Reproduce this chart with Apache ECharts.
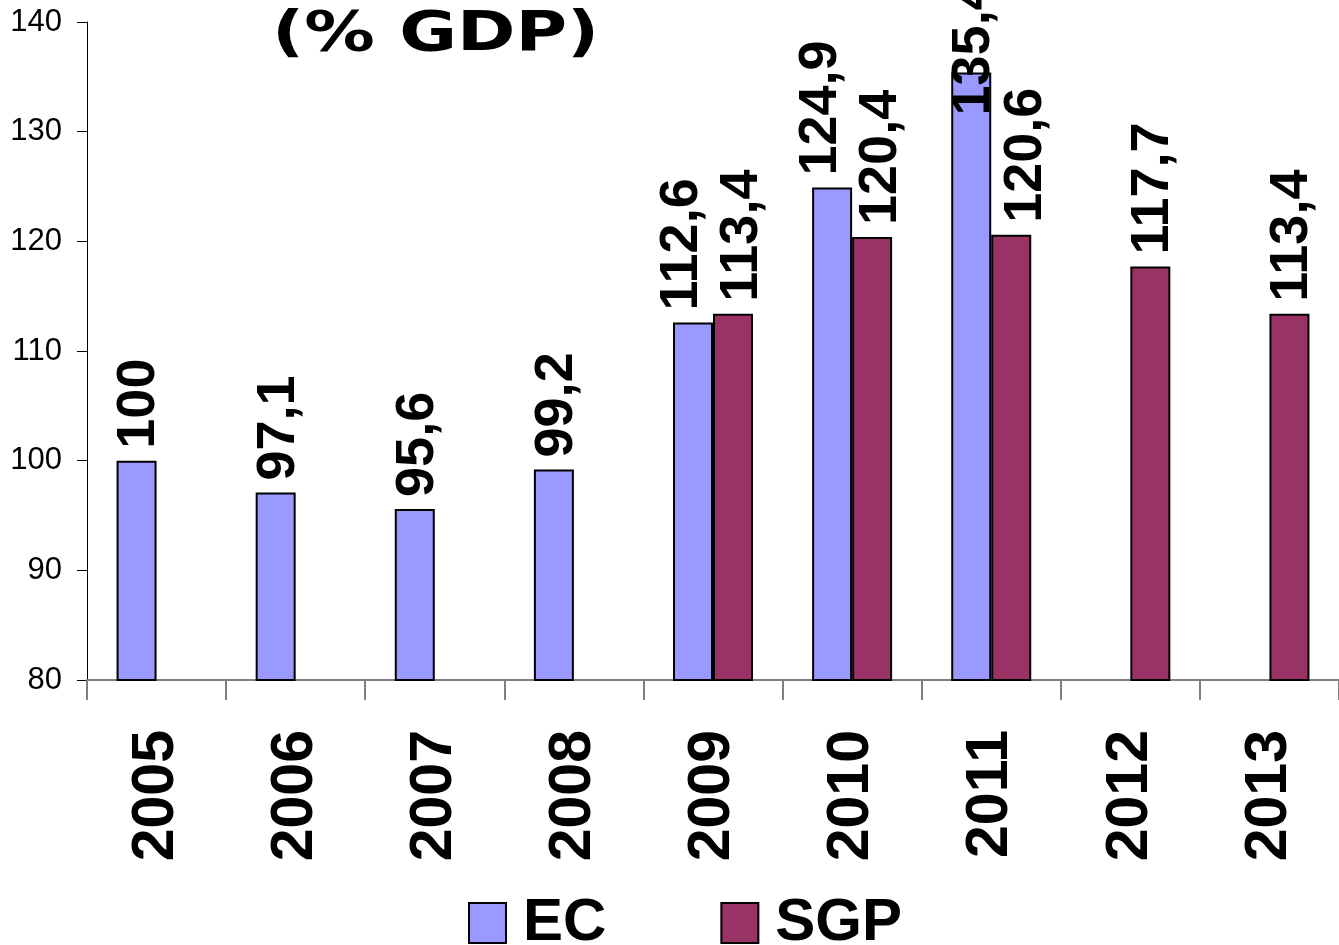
<!DOCTYPE html>
<html>
<head>
<meta charset="utf-8">
<title>(% GDP)</title>
<script src="https://cdn.jsdelivr.net/npm/echarts@6/dist/echarts.min.js"></script>
<style>
  html, body { margin: 0; padding: 0; background: #ffffff; }
  #chart { width: 1339px; height: 945px; }
</style>
</head>
<body>
<div id="chart"></div>
<script>
// Years on the category axis
const years = ['2005', '2006', '2007', '2008', '2009', '2010', '2011', '2012', '2013'];
// Debt ratio, % of GDP
const ecValues = [100, 97.1, 95.6, 99.2, 112.6, 124.9, 135.4, null, null];
const sgpValues = [null, null, null, null, 113.4, 120.4, 120.6, 117.7, 113.4];
const seriesNames = ['EC', 'SGP'];
// Value axis range
const yMin = 80;
const yMax = 140;
const yStep = 10;

const colors = { EC: '#9999FF', SGP: '#993366' };
const labelFont = 'Liberation Sans, Arial, sans-serif';

// Decimal comma for value labels
function fmt(v) { return String(v).replace('.', ','); }

// Label tweaks (labels are rotated 90deg, so offset is [along text, across text]):
// paired bars spread their labels apart, and a label that would run off the
// top of the chart is pushed down onto its bar (its neighbour then moves aside).
const labelBase = 3;
const pairSpread = { EC: -14, SGP: 6 };
const besidePushed = 12;
const pushLimit = 130;
const labelPushDown = 55;

function buildData(name, values, other) {
  return values.map(function (v, i) {
    if (v === null) return null;
    let along = 0;
    let across = labelBase;
    if (v > pushLimit) {
      along = -labelPushDown;
    } else if (other[i] !== null) {
      across += other[i] > pushLimit ? besidePushed : pairSpread[name];
    }
    return { value: v, label: { offset: [along, across] } };
  });
}

function barSeries(name, values, other) {
  return {
    name: name,
    type: 'bar',
    barWidth: 40,
    barGap: '0%',
    data: buildData(name, values, other),
    itemStyle: { color: colors[name], borderColor: '#000000', borderWidth: 2 },
    label: {
      show: true,
      position: 'top',
      rotate: 90,
      align: 'left',
      verticalAlign: 'middle',
      distance: 12,
      fontFamily: labelFont,
      fontWeight: 'bold',
      fontSize: 54,
      color: '#000000',
      formatter: function (p) { return fmt(p.value); }
    }
  };
}

const chart = echarts.init(document.getElementById('chart'), null, { renderer: 'canvas' });

chart.setOption({
  backgroundColor: '#ffffff',
  animation: false,
  graphic: [{
    type: 'text',
    x: 272,
    y: 36,
    scaleX: 1.28,
    style: {
      text: '(% GDP)',
      font: 'bold 55px "DejaVu Sans", sans-serif',
      fill: '#000000',
      textAlign: 'left',
      textVerticalAlign: 'middle'
    }
  }],
  legend: {
    data: seriesNames,
    left: 463,
    top: 888,
    itemWidth: 37,
    itemHeight: 40,
    itemGap: 114,
    icon: 'rect',
    itemStyle: { borderColor: '#000000', borderWidth: 2 },
    textStyle: {
      fontFamily: labelFont,
      fontWeight: 'bold',
      fontSize: 60,
      color: '#000000',
      padding: [0, 0, 0, 12]
    }
  },
  grid: { left: 87, right: -8, top: 22, bottom: 265, containLabel: false },
  xAxis: {
    type: 'category',
    data: years,
    boundaryGap: true,
    axisLine: { show: true, lineStyle: { color: '#808080', width: 2 } },
    axisTick: { show: true, alignWithLabel: false, length: 20, lineStyle: { color: '#808080', width: 2 } },
    axisLabel: {
      rotate: 90,
      margin: 50,
      interval: 0,
      fontFamily: labelFont,
      fontWeight: 'bold',
      fontSize: 59,
      color: '#000000'
    },
    splitLine: { show: false }
  },
  yAxis: {
    type: 'value',
    min: yMin,
    max: yMax,
    interval: yStep,
    axisLine: { show: true, lineStyle: { color: '#000000', width: 1 } },
    axisTick: { show: true, length: 10, lineStyle: { color: '#000000', width: 1 } },
    axisLabel: {
      margin: 25,
      fontFamily: labelFont,
      fontSize: 31,
      color: '#000000'
    },
    splitLine: { show: false }
  },
  series: [barSeries('EC', ecValues, sgpValues), barSeries('SGP', sgpValues, ecValues)]
});
</script>
</body>
</html>
